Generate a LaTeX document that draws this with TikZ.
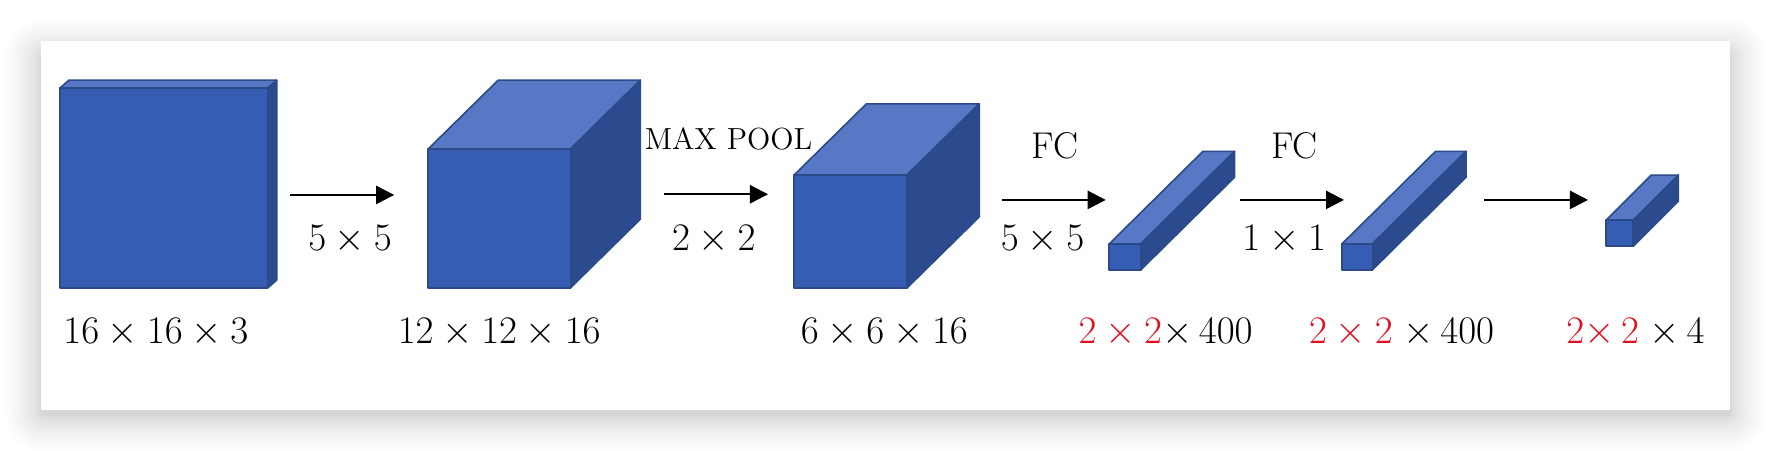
\documentclass[tikz,border=0pt]{standalone}
\usetikzlibrary{arrows.meta}
\definecolor{frontc}{HTML}{365CB4}
\definecolor{topc}{HTML}{5778C4}
\definecolor{sidec}{HTML}{2C4A8E}
\definecolor{edgec}{HTML}{2A4A88}
\definecolor{redc}{HTML}{E0101F}
\tikzset{
  facefront/.style={fill=frontc,draw=edgec,line width=0.7pt,line join=round},
  facetop/.style={fill=topc,draw=edgec,line width=0.7pt,line join=round},
  faceside/.style={fill=sidec,draw=edgec,line width=0.7pt,line join=round},
  flow/.style={-{Triangle[length=8pt,width=8pt]},line width=1pt,black},
  dimlabel/.style={font=\fontsize{16.8}{20}\selectfont,inner sep=0pt,anchor=base},
  poollabel/.style={font=\fontsize{13.5}{18}\selectfont,inner sep=0pt,anchor=base},
  fclabel/.style={font=\fontsize{16.5}{18}\selectfont,inner sep=0pt,anchor=base}
}
% #1 x left, #2 y top of front, #3 x right, #4 y bottom, #5 dx, #6 dy
\newcommand{\cuboid}[6]{%
  \draw[facetop] (#1,#2) -- (#1+#5,#2-#6) -- (#3+#5,#2-#6) -- (#3,#2) -- cycle;
  \draw[faceside] (#3,#2) -- (#3+#5,#2-#6) -- (#3+#5,#4-#6) -- (#3,#4) -- cycle;
  \draw[facefront] (#1,#2) rectangle (#3,#4);
}
\begin{document}
\begin{tikzpicture}[x=0.5pt,y=-0.5pt]
\useasboundingbox (0,0) rectangle (1568,399.3);
\fill[white] (0,0) rectangle (1568,399.3);
% soft shadow
\foreach \i in {1,...,40}{
  \pgfmathsetmacro{\r}{32*(\i/40)^1.6}
  \pgfmathsetmacro{\rc}{(\r+2)*0.5}
  \fill[black,opacity=0.0042,rounded corners=\rc pt]
    (36-\r,36-\r+12) rectangle (1532+\r,363+\r+5);
}
\fill[white] (36,36) rectangle (1532,363);
% solids
\cuboid{53}{78}{237}{255}{8}{7}
\cuboid{379}{132}{505}{255}{62}{61}
\cuboid{703}{155}{803}{255}{64}{63}
\cuboid{982}{216}{1010}{239}{83}{82}
\cuboid{1188}{216}{1215}{239}{83}{82}
\cuboid{1422}{195}{1446}{218}{40}{40}
% arrow ends
\coordinate (a1s) at (257,172.6); \coordinate (a1e) at (349,172.6);
\coordinate (a2s) at (588,172); \coordinate (a2e) at (680,172);
\coordinate (a3s) at (887,177); \coordinate (a3e) at (979,177);
\coordinate (a4s) at (1098,177); \coordinate (a4e) at (1190,177);
\coordinate (a5s) at (1314,177); \coordinate (a5e) at (1406,177);
\draw[flow] (a1s) -- (a1e);
\draw[flow] (a2s) -- (a2e);
\draw[flow] (a3s) -- (a3e);
\draw[flow] (a4s) -- (a4e);
\draw[flow] (a5s) -- (a5e);
% labels
\node[dimlabel] (k1) at (310,222) {$5\times5$};
\node[dimlabel] (k2) at (632,222) {$2\times2$};
\node[dimlabel] (k3) at (923,222) {$5\times5$};
\node[dimlabel] (k4) at (1137,222) {$1\times1$};
\node[poollabel] (c1) at (645,132) {MAX POOL};
\node[fclabel] (c2) at (934,140) {FC};
\node[fclabel] (c3) at (1146,140) {FC};
\node[dimlabel] (s1) at (138,304) {$16\times16\times3$};
\node[dimlabel] (s2) at (442,304) {$12\times12\times16$};
\node[dimlabel] (s3) at (783,304) {$6\times6\times16$};
\node[dimlabel] (s4) at (1032,304) {\textcolor{redc}{$2\times2$}$\times\,400$};
\node[dimlabel] (s5) at (1241,304) {\textcolor{redc}{$2\times2$}$\;\times\,400$};
\node[dimlabel] (s6) at (1448,304) {\textcolor{redc}{$2{\times}\,2$}$\;\times\,4$};
\end{tikzpicture}
\end{document}
